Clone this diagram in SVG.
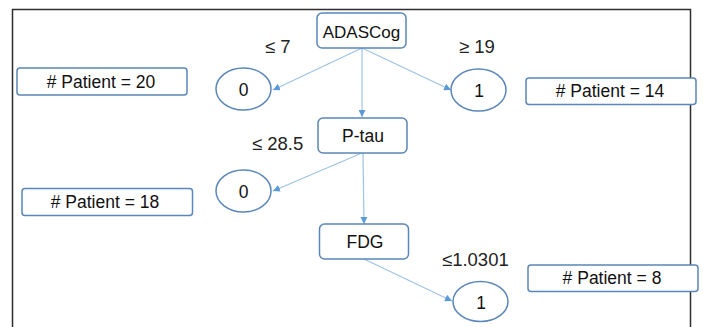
<svg xmlns="http://www.w3.org/2000/svg" width="703" height="327" viewBox="0 0 703 327">
<style>
.box{fill:#fff;stroke:#5a86b8;stroke-width:1.5}
.ell{fill:#fff;stroke:#5a86b8;stroke-width:1.5}
.t{font-family:"Liberation Sans",Arial,sans-serif;font-size:17.5px;fill:#111;text-anchor:middle}
.lbl{font-family:"Liberation Sans",Arial,sans-serif;font-size:18.5px;fill:#222}
.edge{stroke:#9dc3e6;stroke-width:1.2;fill:none;marker-end:url(#ah)}
</style>
<defs>
<marker id="ah" viewBox="0 0 10 10" refX="10" refY="5" markerWidth="7" markerHeight="7" markerUnits="userSpaceOnUse" orient="auto">
<path d="M0,0 L10,5 L0,10 z" fill="#5b9bd5"/>
</marker>
</defs>
<rect width="703" height="327" fill="#fff"/>
<path d="M12.5,330 V9.5 H690.5 V330" fill="none" stroke="#2e2e2e" stroke-width="1.5"/>
<g id="edges">
<line class="edge" x1="362" y1="48" x2="273" y2="90"/>
<line class="edge" x1="362" y1="48" x2="451" y2="90"/>
<line class="edge" x1="362" y1="48" x2="362" y2="117"/>
<line class="edge" x1="362" y1="153" x2="273" y2="191"/>
<line class="edge" x1="363" y1="153" x2="364" y2="224"/>
<line class="edge" x1="364" y1="259" x2="452" y2="301"/>
</g>
<g id="n-adascog"><rect class="box" x="317" y="13" width="89" height="35" rx="5"/><text class="t" x="361.5" y="37.5" style="font-size:17px">ADASCog</text></g>
<g id="n-ptau"><rect class="box" x="318" y="118" width="89" height="35" rx="5"/><text class="t" x="363" y="142">P-tau</text></g>
<g id="n-fdg"><rect class="box" x="319.5" y="224" width="89" height="35" rx="5"/><text class="t" x="365" y="248">FDG</text></g>
<g id="n-leaf0a"><ellipse class="ell" cx="243.5" cy="89" rx="27.5" ry="21"/><text class="t" x="243.5" y="96">0</text></g>
<g id="n-leaf1a"><ellipse class="ell" cx="478.5" cy="90" rx="27.5" ry="21"/><text class="t" x="479" y="97">1</text></g>
<g id="n-leaf0b"><ellipse class="ell" cx="243.5" cy="191" rx="27.5" ry="21"/><text class="t" x="243.5" y="198">0</text></g>
<g id="n-leaf1b"><ellipse class="ell" cx="480.5" cy="301.5" rx="27.5" ry="20"/><text class="t" x="481" y="308.5">1</text></g>
<g id="n-p20"><rect class="box" x="17" y="68" width="170" height="27" rx="3"/><text class="t" x="101" y="87.5">&#35; Patient = 20</text></g>
<g id="n-p14"><rect class="box" x="526" y="78" width="170" height="26.5" rx="3"/><text class="t" x="610" y="97">&#35; Patient = 14</text></g>
<g id="n-p18"><rect class="box" x="22" y="188.5" width="170.5" height="27" rx="3"/><text class="t" x="105" y="207.5">&#35; Patient = 18</text></g>
<g id="n-p8"><rect class="box" x="528" y="265" width="170" height="26.5" rx="3"/><text class="t" x="612" y="284">&#35; Patient = 8</text></g>
<g id="labels">
<text class="lbl" x="265" y="53">≤ 7</text>
<text class="lbl" x="459" y="53">≥ 19</text>
<text class="lbl" x="252" y="150">≤ 28.5</text>
<text class="lbl" x="442" y="266">≤1.0301</text>
</g>
</svg>
